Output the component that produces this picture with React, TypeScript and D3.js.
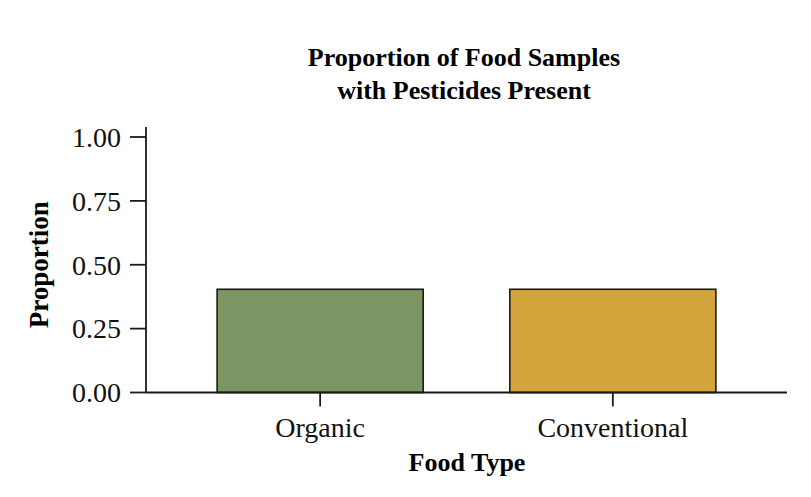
import React from "react";
import * as d3 from "d3";

const categories = ["Organic", "Conventional"];
const proportions = [0.404, 0.404];
const barColors = ["#7b9563", "#d4a53d"];
const yTicks = [0, 0.25, 0.5, 0.75, 1.0];
const titleLines = ["Proportion of Food Samples", "with Pesticides Present"];

const W = 811;
const H = 497;
const FONT = "'Liberation Serif', 'Times New Roman', serif";

export default function App() {
  const left = 146;
  const right = 787;
  const y0 = 392.5;
  const y1 = 137;

  const x = d3
    .scaleBand<string>()
    .domain(categories)
    .range([left, right])
    .paddingInner(0.296)
    .paddingOuter(0.243);
  const y = d3.scaleLinear().domain([0, 1]).range([y0, y1]);

  return (
    <svg
      width={W}
      height={H}
      style={{ position: "absolute", left: 0, top: 0, background: "#fff" }}
      fontFamily={FONT}
    >
      {/* title */}
      {titleLines.map((t, i) => (
        <text
          key={t}
          x={464}
          y={66 + i * 33}
          textAnchor="middle"
          fontWeight="bold"
          fontSize={26}
          fill="#000"
        >
          {t}
        </text>
      ))}

      {/* bars */}
      {categories.map((c, i) => (
        <rect
          key={c}
          x={x(c)!}
          y={y(proportions[i])}
          width={x.bandwidth()}
          height={y0 - y(proportions[i])}
          fill={barColors[i]}
          stroke="#1a1a1a"
          strokeWidth={1.6}
        />
      ))}

      {/* y axis */}
      <line x1={left} x2={left} y1={y1 - 10} y2={y0} stroke="#1a1a1a" strokeWidth={1.8} />
      {yTicks.map((t) => (
        <g key={t}>
          <line x1={left - 16} x2={left} y1={y(t)} y2={y(t)} stroke="#1a1a1a" strokeWidth={1.8} />
          <text
            x={left - 25}
            y={y(t)}
            dy="0.35em"
            textAnchor="end"
            fontSize={28}
            fill="#111"
          >
            {d3.format(".2f")(t)}
          </text>
        </g>
      ))}

      {/* x axis */}
      <line x1={left} x2={right} y1={y0} y2={y0} stroke="#1a1a1a" strokeWidth={1.8} />
      {categories.map((c) => {
        const cx = x(c)! + x.bandwidth() / 2;
        return (
          <g key={c}>
            <line x1={cx} x2={cx} y1={y0} y2={y0 + 14} stroke="#1a1a1a" strokeWidth={1.8} />
            <text x={cx} y={437} textAnchor="middle" fontSize={28} fill="#111">
              {c}
            </text>
          </g>
        );
      })}

      {/* axis titles */}
      <text x={467} y={471} textAnchor="middle" fontWeight="bold" fontSize={26} fill="#000">
        Food Type
      </text>
      <text
        transform={`translate(48, ${y(0.5)}) rotate(-90)`}
        textAnchor="middle"
        fontWeight="bold"
        fontSize={27}
        fill="#000"
      >
        Proportion
      </text>
    </svg>
  );
}
